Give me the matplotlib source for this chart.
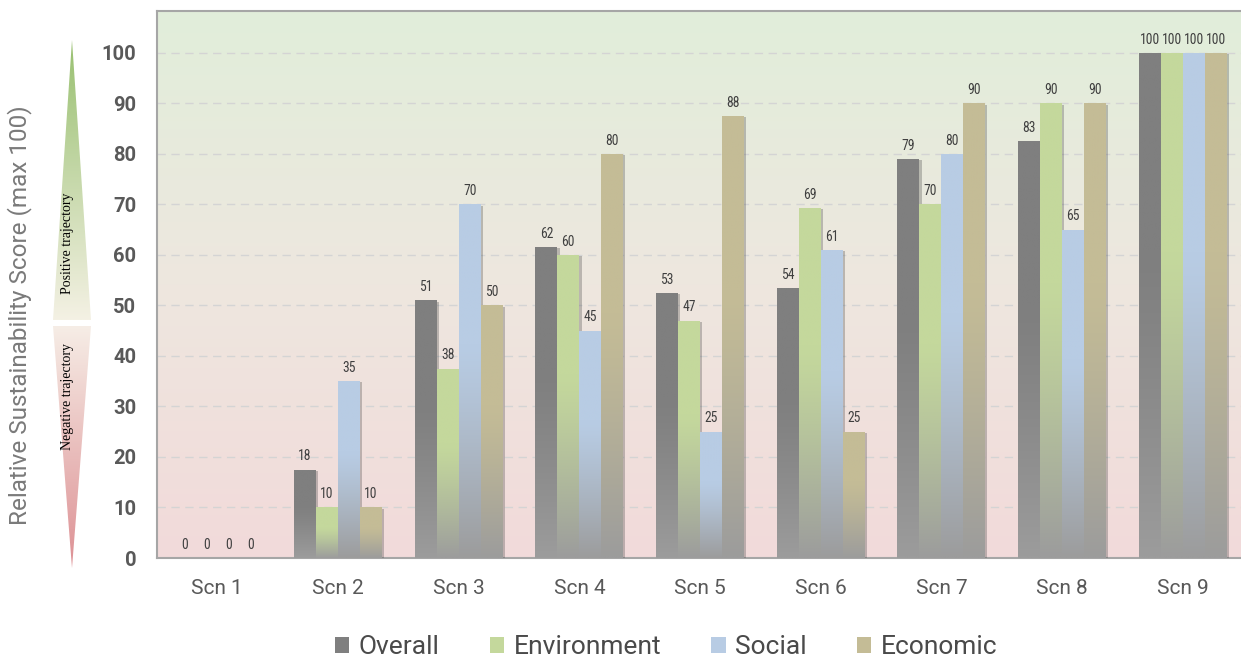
import numpy as np
import matplotlib
matplotlib.use("Agg")
import matplotlib.pyplot as plt
from matplotlib.patches import Polygon, Rectangle
from matplotlib import patheffects as pe
from matplotlib.colors import to_rgb

# ---------------- data ----------------
scenarios = ["Scn 1", "Scn 2", "Scn 3", "Scn 4", "Scn 5", "Scn 6", "Scn 7", "Scn 8", "Scn 9"]
overall = [0, 17.5, 51, 61.5, 52.5, 53.5, 79, 82.5, 100]
environment = [0, 10, 37.5, 60, 47, 69.3, 70, 90, 100]
social = [0, 35, 70, 45, 25, 61, 80, 65, 100]
economic = [0, 10, 50, 80, 87.5, 25, 90, 90, 100]
series_names = ["Overall", "Environment", "Social", "Economic"]
series_colors = ["#7f7f7f", "#c4d89c", "#b8cce4", "#c4bc96"]
y_ticks = [0, 10, 20, 30, 40, 50, 60, 70, 80, 90, 100]
y_label = "Relative Sustainability Score (max 100)"

W, H = 1241, 659
fig = plt.figure(figsize=(W / 100, H / 100), dpi=100)
FONT = "Roboto"
NARROW = ["Roboto Condensed", "Liberation Sans Narrow", "DejaVu Sans Condensed", "Roboto"]
TXT = "#595959"

# main axes
ax = fig.add_axes([157 / W, (H - 558) / H, (1243 - 157) / W, (558 - 11) / H])
ax.set_xlim(-0.5, 8.5)
ax.set_ylim(0, 108.3)

# background gradient (green top -> beige middle -> pink bottom)
top_c = np.array(to_rgb("#e1eeda"))
mid_c = np.array(to_rgb("#eee7df"))
bot_c = np.array(to_rgb("#f2dada"))
n = 256
t = np.linspace(0, 1, n)[:, None]  # 0 top -> 1 bottom
grad = np.where(t < 0.5, top_c * (1 - t / 0.5) + mid_c * (t / 0.5),
                mid_c * (1 - (t - 0.5) / 0.5) + bot_c * ((t - 0.5) / 0.5))
grad = grad[:, None, :].repeat(2, axis=1)
ax.imshow(grad, extent=(0, 1, 0, 1), transform=ax.transAxes, aspect="auto",
          origin="upper", zorder=0, interpolation="bilinear")

ax.set_axisbelow(True)
ax.yaxis.grid(True, color="#d4d4d4", linestyle=(0, (6, 4)), linewidth=1.0)
ax.xaxis.grid(False)
for side in ["top", "left", "bottom"]:
    ax.spines[side].set_color("#a6a6a6")
    ax.spines[side].set_linewidth(1.5)
ax.spines["right"].set_visible(False)

x = np.arange(len(scenarios))
bw = 0.182
all_series = [overall, environment, social, economic]
grey_bottom = np.array(to_rgb("#9c9c9c"))
for i, (vals, col) in enumerate(zip(all_series, series_colors)):
    offs = (i - 1.5) * bw
    bars = ax.bar(x + offs, vals, width=bw, color=col, zorder=3,
                  path_effects=[pe.SimplePatchShadow(offset=(1.6, -0.8), shadow_rgbFace="#444444", alpha=0.3),
                                pe.Normal()])
    c = np.array(to_rgb(col))
    for b, v in zip(bars, vals):
        if v <= 0:
            continue
        tt = np.linspace(0, 1, 128)[:, None]  # 0 top -> 1 bottom
        w = np.clip((tt - 0.4) / 0.6, 0, 1) ** 1.2
        g = c * (1 - w) + grey_bottom * w
        g = g[:, None, :].repeat(2, axis=1)
        im = ax.imshow(g, extent=(b.get_x(), b.get_x() + b.get_width(), 0, b.get_height()),
                       aspect="auto", origin="upper", zorder=3.5, interpolation="bilinear")
        im.set_clip_path(b)
        ax.set_xlim(-0.5, 8.5)
        ax.set_ylim(0, 108.3)
    for b, v in zip(bars, vals):
        ax.annotate(f"{int(np.floor(v + 0.5))}", (b.get_x() + b.get_width() / 2, v),
                    xytext=(0, 4.5), textcoords="offset points", ha="center", va="bottom",
                    fontsize=9.8, color="#3f3f3f", family=NARROW, zorder=5)

ax.set_xticks(x)
ax.set_xticklabels(scenarios, fontsize=15, color=TXT, family=FONT)
ax.set_yticks(y_ticks)
ax.set_yticklabels([str(v) for v in y_ticks], fontsize=14.5, color=TXT, family=FONT, fontweight="bold")
ax.tick_params(axis="both", length=0)
ax.tick_params(axis="y", pad=15)
ax.tick_params(axis="x", pad=15)

# y label
fig.text(20 / W, 1 - 315 / H, y_label, rotation=90, ha="center", va="center",
         fontsize=17.5, color="#7a7a7a", family=FONT)

# legend
handles = [Rectangle((0, 0), 1, 1, facecolor=c, edgecolor="none") for c in series_colors]
fig.legend(handles, series_names, loc="center", bbox_to_anchor=(666 / W, 1 - 647 / H), ncol=4,
           frameon=False, prop={"family": FONT, "size": 19}, labelcolor="#4a4a4a",
           handlelength=0.55, handleheight=0.55, handletextpad=0.35, columnspacing=1.9)

# trajectory arrows (decorative overlay)
ov = fig.add_axes([0, 0, 1, 1], zorder=-1)
ov.set_xlim(0, W)
ov.set_ylim(H, 0)
ov.axis("off")

def grad_tri(pts, ytop, ybot, ctop, cbot):
    ct, cb = np.array(to_rgb(ctop)), np.array(to_rgb(cbot))
    tt = np.linspace(0, 1, 256)[:, None]
    g = (ct * (1 - tt) + cb * tt)[:, None, :].repeat(2, axis=1)
    xs = [p[0] for p in pts]
    im = ov.imshow(g, extent=(min(xs), max(xs), ybot, ytop), aspect="auto", origin="upper",
                   interpolation="bilinear")
    poly = Polygon(pts, closed=True, facecolor="none", edgecolor="none")
    ov.add_patch(poly)
    im.set_clip_path(poly)

grad_tri([(72, 40), (53, 320), (91, 320)], 40, 320, "#98c070", "#f4f1e4")
grad_tri([(53, 326), (91, 326), (72, 568)], 326, 568, "#f6ede6", "#dd9094")
ov.set_xlim(0, W)
ov.set_ylim(H, 0)
ov.text(68, 243, "Positive trajectory", rotation=90, ha="center", va="center",
        fontsize=10, family="Liberation Serif", color="#000000")
ov.text(68, 396, "Negative trajectory", rotation=90, ha="center", va="center",
        fontsize=10, family="Liberation Serif", color="#000000")

fig.savefig("out.png", dpi=100)
